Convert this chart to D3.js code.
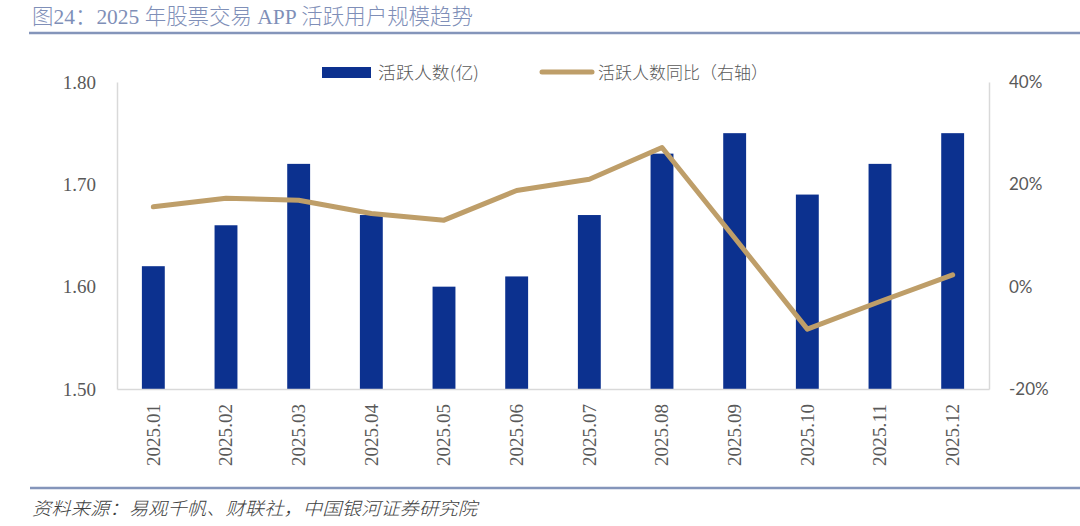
<!DOCTYPE html>
<html>
<head>
<meta charset="utf-8">
<script src="https://cdn.jsdelivr.net/npm/d3@7"></script>
<style>
  html, body { margin: 0; padding: 0; background: #fff; }
  svg { display: block; }
</style>
</head>
<body>
<svg id="chart" width="1080" height="526"></svg>
<script>
const months = ["2025.01","2025.02","2025.03","2025.04","2025.05","2025.06","2025.07","2025.08","2025.09","2025.10","2025.11","2025.12"];
const activeUsers = [1.62, 1.66, 1.72, 1.67, 1.60, 1.61, 1.67, 1.73, 1.75, 1.69, 1.72, 1.75];
const yoyPct = [15.6, 17.3, 16.9, 14.3, 13.0, 18.8, 21.0, 27.2, 9.5, -8.3, -2.9, 2.3];
const leftTicks = [1.50, 1.60, 1.70, 1.80];
const rightTicks = [-20, 0, 20, 40];
const titleText = "图24：2025 年股票交易 APP 活跃用户规模趋势";
const sourceText = "资料来源：易观千帆、财联社，中国银河证券研究院";
const barLabel = "活跃人数(亿)";
const lineLabel = "活跃人数同比（右轴）";

const barColor = "#0C318F";
const lineColor = "#BE9E69";
const axisColor = "#D9D9D9";
const textColor = "#595959";
const headColor = "#7F8FB8";

const svg = d3.select("#chart");
const L = 117, R = 989, T = 82, B = 389;

const x = d3.scaleBand().domain(months).range([L, R]).paddingInner(0.685).paddingOuter(0.3425);
const yL = d3.scaleLinear().domain([1.5, 1.8]).range([B, T]);
const yR = d3.scaleLinear().domain([-20, 40]).range([B, T]);

// Title
svg.append("text")
  .attr("x", 32).attr("y", 24)
  .attr("textLength", 441).attr("lengthAdjust", "spacingAndGlyphs")
  .style("font-family", "'Liberation Serif','Noto Sans CJK SC',serif")
  .style("font-size", "22px").style("font-weight", 300)
  .style("fill", headColor)
  .text(titleText);
svg.append("line").attr("x1", 29).attr("x2", 1080).attr("y1", 33).attr("y2", 33)
  .attr("stroke", "#8495BA").attr("stroke-width", 2.5);

// Bottom separator and source
svg.append("line").attr("x1", 30).attr("x2", 1080).attr("y1", 488).attr("y2", 488)
  .attr("stroke", "#8495BA").attr("stroke-width", 2.5);
svg.append("text")
  .attr("x", 32).attr("y", 515)
  .attr("textLength", 445).attr("lengthAdjust", "spacingAndGlyphs")
  .style("font-family", "'Noto Sans CJK SC',sans-serif")
  .style("font-size", "18px").style("font-style", "italic").style("font-weight", 300)
  .style("fill", "#404040")
  .text(sourceText);

// Bars
svg.append("g").selectAll("rect").data(months).join("rect")
  .attr("x", d => x(d))
  .attr("width", x.bandwidth())
  .attr("y", (d, i) => yL(activeUsers[i]))
  .attr("height", (d, i) => B - yL(activeUsers[i]))
  .attr("fill", barColor);

// Axes
const axL = svg.append("g").attr("transform", `translate(${L},0)`)
  .call(d3.axisLeft(yL).tickValues(leftTicks).tickFormat(d3.format(".2f")).tickSize(0).tickPadding(21));
const axR = svg.append("g").attr("transform", `translate(${R},0)`)
  .call(d3.axisRight(yR).tickValues(rightTicks).tickFormat(d => d + "%").tickSize(0).tickPadding(20));
const axB = svg.append("g").attr("transform", `translate(0,${B})`)
  .call(d3.axisBottom(x).tickSize(0));

[axL, axR, axB].forEach(a => {
  a.select(".domain").attr("stroke", axisColor).attr("stroke-width", 1.5);
});
axL.selectAll("text").style("font-family", "'Liberation Serif',serif").style("font-size", "19px").style("fill", textColor);
axR.selectAll("text").style("font-family", "Lato,sans-serif").style("font-size", "17px").style("fill", textColor);
axB.selectAll("text")
  .attr("transform", "rotate(-90)")
  .attr("x", -15).attr("y", 0).attr("dy", "0.36em")
  .attr("textLength", 62).attr("lengthAdjust", "spacingAndGlyphs")
  .style("text-anchor", "end")
  .style("font-family", "'Liberation Serif',serif").style("font-size", "18px").style("fill", textColor);

// Line
const line = d3.line()
  .x((d, i) => x(months[i]) + x.bandwidth() / 2)
  .y(d => yR(d));
svg.append("path").datum(yoyPct)
  .attr("d", line)
  .attr("fill", "none").attr("stroke", lineColor)
  .attr("stroke-width", 5).attr("stroke-linejoin", "round").attr("stroke-linecap", "round");

// Legend
const lg = svg.append("g");
lg.append("rect").attr("x", 322).attr("y", 67).attr("width", 49).attr("height", 11).attr("fill", barColor);
lg.append("text").attr("x", 378).attr("y", 79)
  .attr("textLength", 101).attr("lengthAdjust", "spacingAndGlyphs")
  .style("font-family", "'Noto Sans CJK SC',sans-serif").style("font-size", "17px").style("font-weight", 300)
  .style("fill", textColor).text(barLabel);
lg.append("line").attr("x1", 542).attr("x2", 592).attr("y1", 72).attr("y2", 72)
  .attr("stroke", lineColor).attr("stroke-width", 5).attr("stroke-linecap", "round");
lg.append("text").attr("x", 598).attr("y", 79)
  .attr("textLength", 170).attr("lengthAdjust", "spacingAndGlyphs")
  .style("font-family", "'Noto Sans CJK SC',sans-serif").style("font-size", "17px").style("font-weight", 300)
  .style("fill", textColor).text(lineLabel);
</script>
</body>
</html>
